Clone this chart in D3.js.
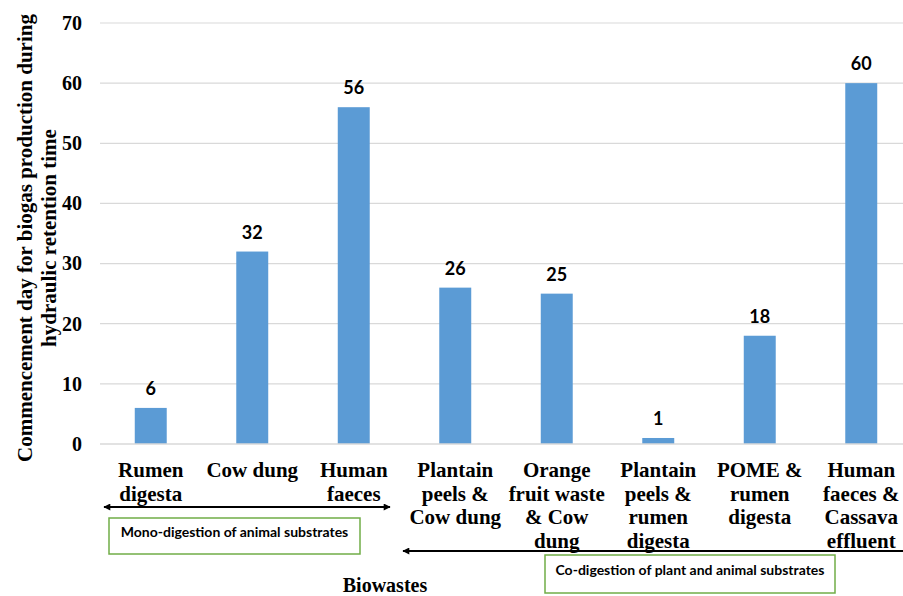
<!DOCTYPE html>
<html><head><meta charset="utf-8">
<script src="https://cdn.jsdelivr.net/npm/d3@7"></script>
<style>body{margin:0;background:#fff}svg{display:block}</style>
</head><body>
<svg id="c" width="903" height="596"></svg>
<script>
const categories = [
  ["Rumen","digesta"],
  ["Cow dung"],
  ["Human","faeces"],
  ["Plantain","peels &","Cow dung"],
  ["Orange","fruit waste","& Cow","dung"],
  ["Plantain","peels &","rumen","digesta"],
  ["POME &","rumen","digesta"],
  ["Human","faeces &","Cassava","effluent"]
];
const values = [6, 32, 56, 26, 25, 1, 18, 60];
const yTicks = [0,10,20,30,40,50,60,70];
const yTitle = ["Commencement day for biogas production during","hydraulic retention time"];
const xTitle = "Biowastes";
const groupLabels = ["Mono-digestion of animal substrates","Co-digestion of plant and animal substrates"];

const svg = d3.select("#c");
const serif = "'Liberation Serif','Times New Roman',serif";
const sans = "Lato,'Open Sans',sans-serif";

const x = d3.scaleBand().domain(d3.range(values.length)).range([100, 912])
  .paddingInner(0.685).paddingOuter(0.3425);
const y = d3.scaleLinear().domain([0,70]).range([444, 23]);

// gridlines
svg.append("g").selectAll("line").data(yTicks.filter(d=>d>0)).join("line")
  .attr("x1",100).attr("x2",903).attr("y1",d=>y(d)).attr("y2",d=>y(d))
  .attr("stroke","#d9d9d9").attr("stroke-width",1.2);

// y axis tick labels
const ya = svg.append("g").attr("transform","translate(82,0)")
  .call(d3.axisLeft(y).tickValues(yTicks).tickSize(0).tickPadding(0));
ya.select(".domain").remove();
ya.selectAll("text").attr("font-family",serif).attr("font-weight","bold")
  .attr("font-size",20).attr("fill","#000");

// bars
svg.append("g").selectAll("rect").data(values).join("rect")
  .attr("x",(d,i)=>x(i)).attr("width",x.bandwidth())
  .attr("y",d=>y(d)).attr("height",d=>y(0)-y(d)).attr("fill","#5B9BD5");

// baseline
svg.append("line").attr("x1",100).attr("x2",903).attr("y1",y(0)).attr("y2",y(0))
  .attr("stroke","#d9d9d9").attr("stroke-width",1.5);

// value labels
svg.append("g").selectAll("text").data(values).join("text")
  .attr("x",(d,i)=>x(i)+x.bandwidth()/2).attr("y",d=>y(d)-13)
  .attr("text-anchor","middle").attr("font-family",sans).attr("font-weight","bold")
  .attr("font-size",18).attr("fill","#000").text(d=>d);

// category labels
const cl = svg.append("g").selectAll("text").data(categories).join("text")
  .attr("x",(d,i)=>x(i)+x.bandwidth()/2).attr("y",477)
  .attr("text-anchor","middle").attr("font-family",serif).attr("font-weight","bold")
  .attr("font-size",21).attr("fill","#000");
cl.selectAll("tspan").data(d=>d).join("tspan")
  .attr("x",function(){return d3.select(this.parentNode).attr("x");})
  .attr("dy",(d,i)=>i===0?0:23.7).text(d=>d);

// y title
const yt = svg.append("text").attr("transform","translate(0,238) rotate(-90)")
  .attr("text-anchor","middle").attr("font-family",serif).attr("font-weight","bold")
  .attr("font-size",21).attr("fill","#000");
yt.selectAll("tspan").data(yTitle).join("tspan").attr("x",0)
  .attr("y",(d,i)=>32+i*24).text(d=>d);

// x title
svg.append("text").attr("x",385).attr("y",592).attr("text-anchor","middle")
  .attr("font-family",serif).attr("font-weight","bold").attr("font-size",20)
  .attr("fill","#000").text(xTitle);

// arrows
const defs = svg.append("defs");
defs.append("marker").attr("id","ah").attr("viewBox","0 0 10 10").attr("refX",9).attr("refY",5)
  .attr("markerWidth",9).attr("markerHeight",7).attr("markerUnits","userSpaceOnUse")
  .attr("orient","auto-start-reverse")
  .append("path").attr("d","M0,0 L10,5 L0,10 z").attr("fill","#000");
svg.append("line").attr("x1",104).attr("x2",390).attr("y1",507).attr("y2",507)
  .attr("stroke","#000").attr("stroke-width",1.8)
  .attr("marker-start","url(#ah)").attr("marker-end","url(#ah)");
svg.append("line").attr("x1",403).attr("x2",903).attr("y1",551).attr("y2",551)
  .attr("stroke","#000").attr("stroke-width",1.8)
  .attr("marker-start","url(#ah)");

// group boxes
const boxes = [{x:109,y:518,w:251,h:36},{x:545,y:555,w:290,h:38}];
boxes.forEach((b,i)=>{
  svg.append("rect").attr("x",b.x).attr("y",b.y).attr("width",b.w).attr("height",b.h)
    .attr("fill","#fff").attr("stroke","#70AD47").attr("stroke-width",1.5);
  svg.append("text").attr("x",b.x+b.w/2).attr("y",b.y+b.h/2-3)
    .attr("text-anchor","middle").attr("dominant-baseline","middle")
    .attr("font-family",sans).attr("font-weight","bold").attr("font-size",14)
    .attr("fill","#000").text(groupLabels[i]);
});
</script>
</body></html>
